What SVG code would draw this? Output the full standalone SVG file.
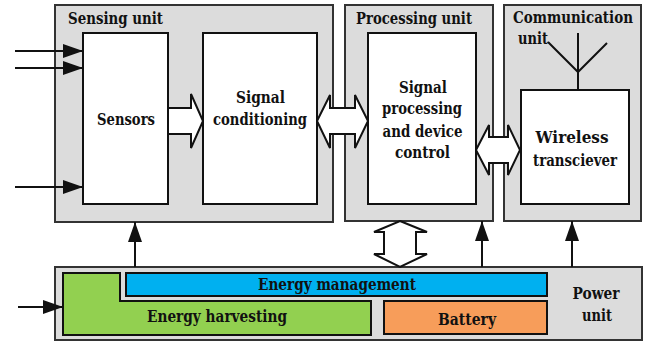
<svg xmlns="http://www.w3.org/2000/svg" width="647" height="342" viewBox="0 0 647 342">
<defs>
<style>
.unit{fill:#dcdcdc;stroke:#333;stroke-width:2}
.box{fill:#fff;stroke:#111;stroke-width:2}
text{font-family:'DejaVu Serif','Liberation Serif',serif;font-weight:bold;font-size:16.5px;fill:#111}
.m{text-anchor:middle}
.ln{stroke:#111;stroke-width:2;fill:none}
.blk{fill:#fff;stroke:#111;stroke-width:2;stroke-linejoin:miter}
</style>
<marker id="ah" markerUnits="userSpaceOnUse" markerWidth="22" markerHeight="16" refX="20" refY="7" orient="auto">
<path d="M0,0 L20,7 L0,14 Z" fill="#111"/>
</marker>
</defs>

<g id="sensing-unit">
<rect class="unit" x="55" y="5" width="278" height="217"/>
<text x="68" y="24" textLength="95" lengthAdjust="spacingAndGlyphs">Sensing unit</text>
</g>
<g id="processing-unit">
<rect class="unit" x="345" y="5" width="148" height="216"/>
<text x="356" y="24" textLength="116" lengthAdjust="spacingAndGlyphs">Processing unit</text>
</g>
<g id="communication-unit">
<rect class="unit" x="504" y="5" width="137" height="216"/>
<text x="513" y="23" textLength="120" lengthAdjust="spacingAndGlyphs">Communication</text>
<text x="518" y="44" textLength="30" lengthAdjust="spacingAndGlyphs">unit</text>
</g>
<g id="power-unit">
<rect class="unit" x="55" y="267" width="587" height="73"/>
<text class="m" x="596" y="299" textLength="47" lengthAdjust="spacingAndGlyphs">Power</text>
<text class="m" x="597" y="321" textLength="30" lengthAdjust="spacingAndGlyphs">unit</text>
</g>

<g id="sensors">
<rect class="box" x="83" y="33" width="85" height="171"/>
<text class="m" x="126" y="125" textLength="58" lengthAdjust="spacingAndGlyphs">Sensors</text>
</g>
<g id="signal-conditioning">
<rect class="box" x="203" y="33" width="114" height="171"/>
<text class="m" x="260.5" y="103" textLength="49" lengthAdjust="spacingAndGlyphs">Signal</text>
<text class="m" x="260" y="125" textLength="94" lengthAdjust="spacingAndGlyphs">conditioning</text>
</g>
<g id="signal-processing">
<rect class="box" x="368" y="33" width="108" height="171"/>
<text class="m" x="423" y="93" textLength="48" lengthAdjust="spacingAndGlyphs">Signal</text>
<text class="m" x="422" y="114" textLength="80" lengthAdjust="spacingAndGlyphs">processing</text>
<text class="m" x="422.5" y="136.5" textLength="80" lengthAdjust="spacingAndGlyphs">and device</text>
<text class="m" x="422.5" y="158" textLength="55" lengthAdjust="spacingAndGlyphs">control</text>
</g>
<g id="wireless-transceiver">
<rect class="box" x="521" y="90" width="108" height="114"/>
<text class="m" x="572" y="143" textLength="73" lengthAdjust="spacingAndGlyphs">Wireless</text>
<text class="m" x="575" y="166" textLength="84" lengthAdjust="spacingAndGlyphs">transciever</text>
</g>
<g id="antenna">
<path class="ln" d="M578,33 V90 M548,42 L578,72 L607,43"/>
</g>
<g id="energy-harvesting">
<path d="M63,273 H120 V301 H371 V335 H63 Z" fill="#92d050" stroke="#111" stroke-width="2"/>
<text class="m" x="217" y="322" textLength="140" lengthAdjust="spacingAndGlyphs">Energy harvesting</text>
</g>
<g id="energy-management">
<rect x="126" y="273" width="421" height="23" fill="#00b0f0" stroke="#111" stroke-width="2"/>
<text class="m" x="337" y="290" textLength="158" lengthAdjust="spacingAndGlyphs">Energy management</text>
</g>
<g id="battery">
<rect x="384" y="301" width="163" height="33" fill="#f79d5a" stroke="#111" stroke-width="2"/>
<text class="m" x="467" y="325" textLength="58" lengthAdjust="spacingAndGlyphs">Battery</text>
</g>

<g id="connectors">
<line class="ln" x1="15" y1="51" x2="83" y2="51" marker-end="url(#ah)"/>
<line class="ln" x1="15" y1="68" x2="83" y2="68" marker-end="url(#ah)"/>
<line class="ln" x1="15" y1="187" x2="83" y2="187" marker-end="url(#ah)"/>
<line class="ln" x1="18" y1="307" x2="63" y2="307" marker-end="url(#ah)"/>
<line class="ln" x1="135" y1="267" x2="135" y2="222" marker-end="url(#ah)"/>
<line class="ln" x1="482" y1="267" x2="482" y2="221" marker-end="url(#ah)"/>
<line class="ln" x1="572" y1="267" x2="572" y2="221" marker-end="url(#ah)"/>
<polygon class="blk" points="168,108 191,108 191,94 203,121 191,148 191,134 168,134"/>
<polygon class="blk" points="317,121 330,95 330,108 355,108 355,95 368,121 355,148 355,134 330,134 330,148"/>
<polygon class="blk" points="476,150 489,125 489,137 508,137 508,125 520,150 508,175 508,163 489,163 489,175"/>
<polygon class="blk" points="400,221 427,232 416,232 416,254 427,254 400,267 374,254 384,254 384,232 374,232"/>
</g>
</svg>
